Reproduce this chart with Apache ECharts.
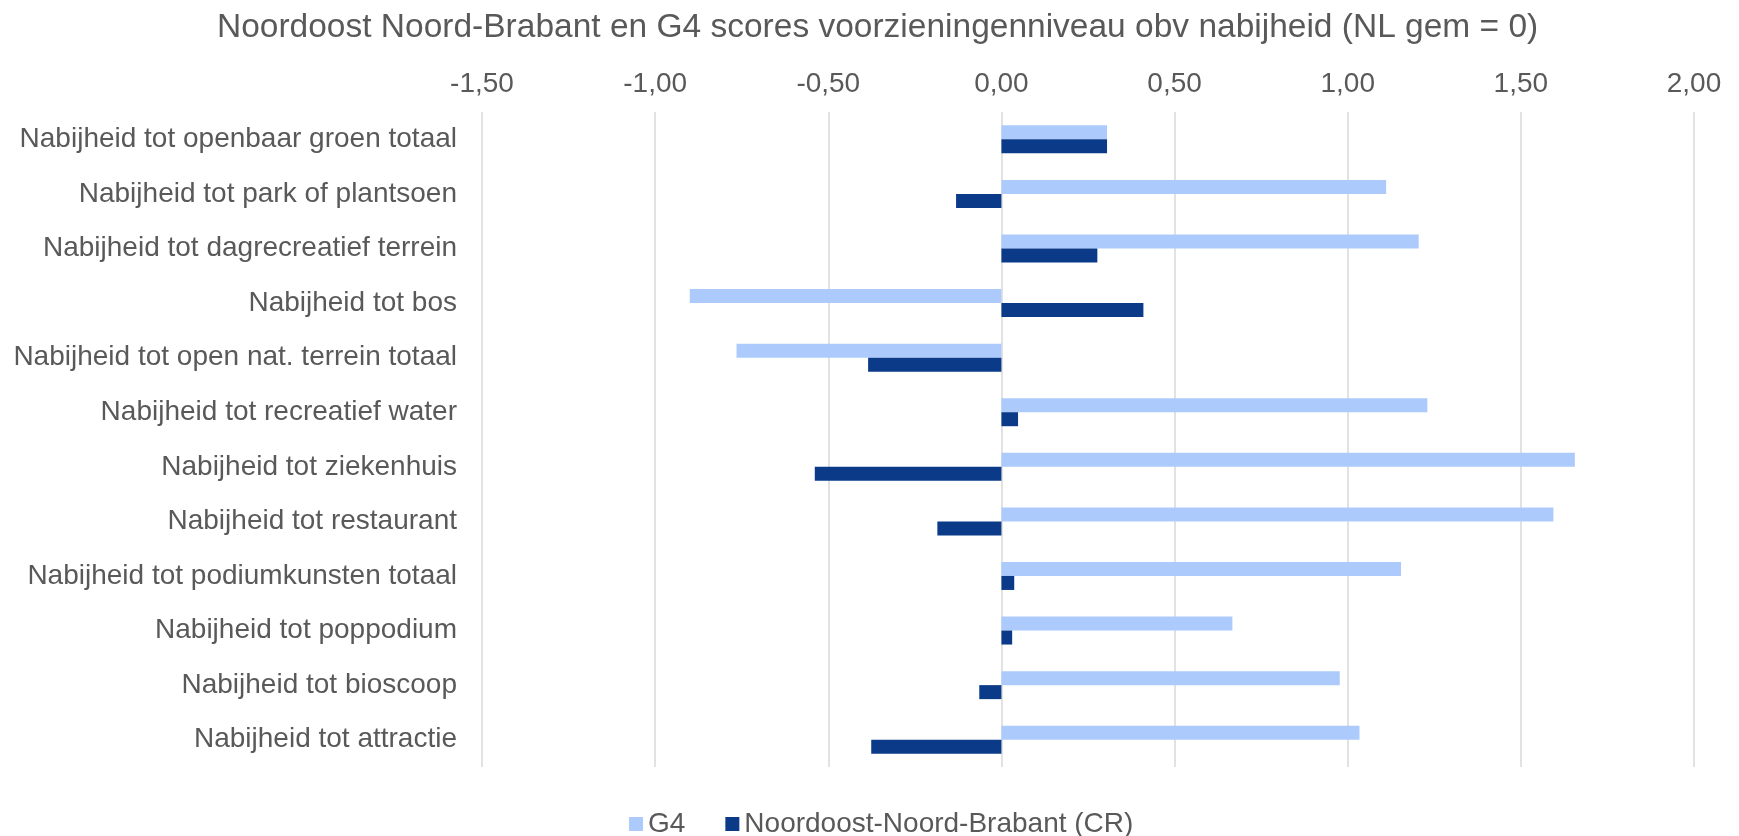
<!DOCTYPE html>
<html>
<head>
<meta charset="utf-8">
<script src="https://cdn.jsdelivr.net/npm/echarts@6/dist/echarts.min.js"></script>
<style>
  html, body { margin: 0; padding: 0; background: #fff; }
  #chart { width: 1739px; height: 836px; }
</style>
</head>
<body>
<div id="chart"></div>
<script>
// categorieen, van boven naar beneden
const categories = [
  'Nabijheid tot openbaar groen totaal',
  'Nabijheid tot park of plantsoen',
  'Nabijheid tot dagrecreatief terrein',
  'Nabijheid tot bos',
  'Nabijheid tot open nat. terrein totaal',
  'Nabijheid tot recreatief water',
  'Nabijheid tot ziekenhuis',
  'Nabijheid tot restaurant',
  'Nabijheid tot podiumkunsten totaal',
  'Nabijheid tot poppodium',
  'Nabijheid tot bioscoop',
  'Nabijheid tot attractie'
];
const g4 = [0.305, 1.111, 1.205, -0.900, -0.765, 1.230, 1.656, 1.594, 1.154, 0.667, 0.977, 1.034];
const nnb = [0.305, -0.131, 0.277, 0.410, -0.385, 0.048, -0.539, -0.185, 0.037, 0.031, -0.064, -0.376];
const seriesNames = ['G4', 'Noordoost-Noord-Brabant (CR)'];
const xTicks = { min: -1.5, max: 2, interval: 0.5 };

const font = '"Liberation Sans", Arial, sans-serif';
const textColor = '#595959';
const colors = ['#ACCBFC', '#0B3B88'];

const chart = echarts.init(document.getElementById('chart'));
chart.setOption({
  animation: false,
  color: colors,
  textStyle: { fontFamily: font },
  title: {
    text: 'Noordoost Noord-Brabant en G4 scores voorzieningenniveau obv nabijheid (NL gem = 0)',
    left: 212,
    top: 6,
    textStyle: { fontFamily: font, fontSize: 33.5, fontWeight: 'normal', color: textColor }
  },
  legend: {
    data: seriesNames,
    left: 624,
    top: 805,
    icon: 'rect',
    itemWidth: 14,
    itemHeight: 14,
    itemGap: 40,
    textStyle: { fontFamily: font, fontSize: 28, color: textColor }
  },
  grid: { left: 482, right: 45, top: 112, bottom: 69, containLabel: false },
  xAxis: {
    type: 'value',
    position: 'top',
    min: xTicks.min,
    max: xTicks.max,
    interval: xTicks.interval,
    axisLine: { show: false },
    axisTick: { show: false },
    axisLabel: {
      margin: 14,
      fontFamily: font,
      fontSize: 28,
      color: textColor,
      formatter: v => v.toFixed(2).replace('.', ',')
    },
    splitLine: { lineStyle: { color: '#D9D9D9', width: 1.5 } }
  },
  yAxis: {
    type: 'category',
    inverse: true,
    data: categories,
    axisLine: { show: false },
    axisTick: { show: false },
    axisLabel: { margin: 25, padding: [6, 0, 0, 0], fontFamily: font, fontSize: 28, color: textColor }
  },
  series: [
    { name: seriesNames[0], type: 'bar', data: g4, barWidth: 14, barGap: '0%' },
    { name: seriesNames[1], type: 'bar', data: nnb, barWidth: 14, barGap: '0%' }
  ]
});
</script>
</body>
</html>
